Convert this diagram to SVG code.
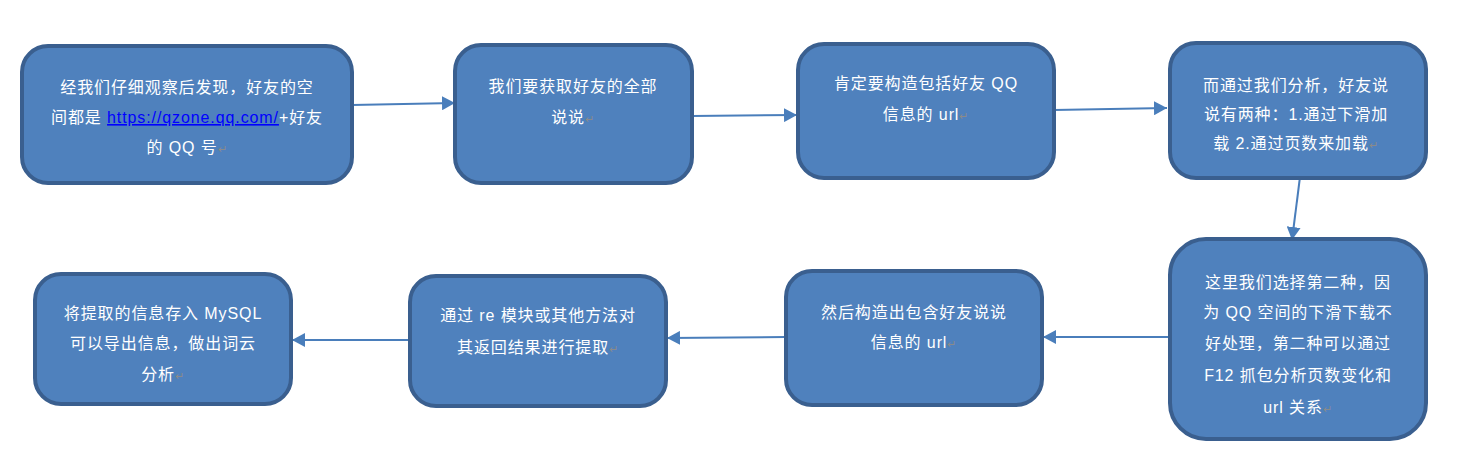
<svg xmlns="http://www.w3.org/2000/svg" width="1469" height="468" viewBox="0 0 1469 468">
<defs>
<style>
.box{fill:#4F81BD;stroke:#3A5F8F;stroke-width:4}
.t{font-family:"Liberation Sans","Noto Sans CJK SC",sans-serif;font-size:16px;fill:#FFFFFF;text-anchor:middle;letter-spacing:0.9px}
.rt{fill:#8A8A8A;font-size:11px}
.lnk{fill:#0000FF;text-decoration:underline}
.c{stroke:#4A7EBB;stroke-width:2;fill:none;marker-end:url(#ah)}
</style>
<marker id="ah" markerWidth="14" markerHeight="14" refX="13" refY="7" orient="auto" markerUnits="userSpaceOnUse">
<path d="M0,0 L13,7 L0,14 Z" fill="#4A7EBB"/>
</marker>
</defs>
<rect width="1469" height="468" fill="#FFFFFF"/>
<g id="connectors">
<line class="c" x1="352" y1="105" x2="455" y2="103"/>
<line class="c" x1="692" y1="116" x2="797" y2="115"/>
<line class="c" x1="1054" y1="110" x2="1167" y2="108"/>
<line class="c" x1="1300" y1="177" x2="1292" y2="240"/>
<line class="c" x1="1168" y1="337" x2="1043" y2="337"/>
<line class="c" x1="786" y1="337" x2="667" y2="338"/>
<line class="c" x1="410" y1="340" x2="292" y2="340"/>
</g>
<g id="n1">
<rect class="box" x="22" y="46" width="330" height="137" rx="26"/>
<text class="t" x="187" y="93">经我们仔细观察后发现，好友的空</text>
<text class="t" x="187" y="123">间都是 <tspan class="lnk">https://qzone.qq.com/</tspan>+好友</text>
<text class="t" x="187" y="153">的 QQ 号<tspan class="rt">↵</tspan></text>
</g>
<g id="n2">
<rect class="box" x="455" y="45" width="237" height="138" rx="26"/>
<text class="t" x="573" y="92">我们要获取好友的全部</text>
<text class="t" x="573" y="123">说说<tspan class="rt">↵</tspan></text>
</g>
<g id="n3">
<rect class="box" x="798" y="44" width="256" height="134" rx="26"/>
<text class="t" x="926" y="89">肯定要构造包括好友 QQ</text>
<text class="t" x="926" y="120">信息的 url<tspan class="rt">↵</tspan></text>
</g>
<g id="n4">
<rect class="box" x="1170" y="43" width="256" height="135" rx="26"/>
<text class="t" x="1296" y="91">而通过我们分析，好友说</text>
<text class="t" x="1296" y="120">说有两种：1.通过下滑加</text>
<text class="t" x="1296" y="149">载 2.通过页数来加载<tspan class="rt">↵</tspan></text>
</g>
<g id="n5">
<rect class="box" x="1170" y="239" width="256" height="200" rx="36"/>
<text class="t" x="1298" y="288">这里我们选择第二种，因</text>
<text class="t" x="1298" y="318">为 QQ 空间的下滑下载不</text>
<text class="t" x="1298" y="349">好处理，第二种可以通过</text>
<text class="t" x="1298" y="381">F12 抓包分析页数变化和</text>
<text class="t" x="1298" y="413">url 关系<tspan class="rt">↵</tspan></text>
</g>
<g id="n6">
<rect class="box" x="786" y="271" width="256" height="134" rx="26"/>
<text class="t" x="914" y="318">然后构造出包含好友说说</text>
<text class="t" x="914" y="348">信息的 url<tspan class="rt">↵</tspan></text>
</g>
<g id="n7">
<rect class="box" x="410" y="276" width="256" height="130" rx="26"/>
<text class="t" x="538" y="321">通过 re 模块或其他方法对</text>
<text class="t" x="538" y="353">其返回结果进行提取<tspan class="rt">↵</tspan></text>
</g>
<g id="n8">
<rect class="box" x="35" y="274" width="256" height="130" rx="26"/>
<text class="t" x="163" y="319">将提取的信息存入 MySQL</text>
<text class="t" x="163" y="349">可以导出信息，做出词云</text>
<text class="t" x="163" y="380">分析<tspan class="rt">↵</tspan></text>
</g>
</svg>
